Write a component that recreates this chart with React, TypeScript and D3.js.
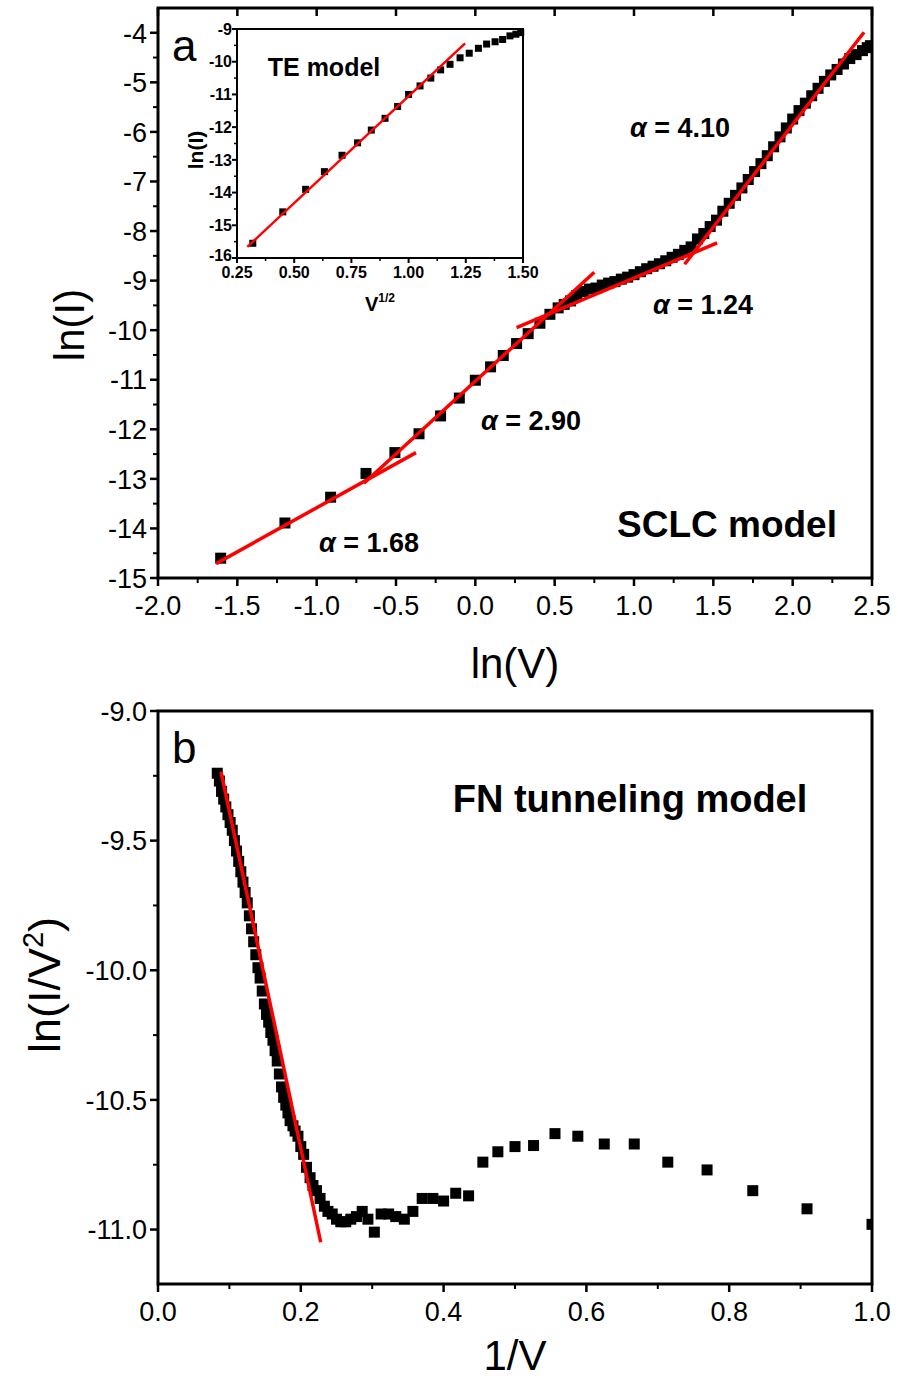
import React from 'react';
import * as d3 from 'd3';

// ---------- DATA ----------
// Panel a main: ln(V) vs ln(I)
const sclcLnV = [
  -1.605, -1.2, -0.912, -0.689, -0.507, -0.355, -0.219, -0.101, 0.0, 0.096, 0.176, 0.26, 0.333, 0.407, 0.47, 0.522,
  0.56, 0.6, 0.64, 0.68, 0.72, 0.76, 0.8, 0.84, 0.88, 0.92, 0.96, 1.0, 1.04, 1.08, 1.12, 1.16, 1.2, 1.24, 1.28, 1.32,
  1.36, 1.4, 1.44, 1.48, 1.52, 1.56, 1.6, 1.64, 1.68, 1.72, 1.76, 1.8, 1.84, 1.88, 1.92, 1.96, 2.0, 2.04, 2.08, 2.12,
  2.16, 2.2, 2.24, 2.28, 2.32, 2.36, 2.4, 2.44, 2.47, 2.49,
];
const sclcLnI = [
  -14.6, -13.89, -13.37, -12.89, -12.47, -12.09, -11.73, -11.37, -11.01, -10.74, -10.51, -10.27, -10.07, -9.86, -9.68, -9.55,
  -9.48, -9.41, -9.3, -9.22, -9.17, -9.15, -9.09, -9.05, -9.02, -8.97, -8.93, -8.88, -8.82, -8.76, -8.71, -8.66, -8.6, -8.53, -8.47, -8.39,
  -8.32, -8.16, -8.05, -7.91, -7.78, -7.6, -7.44, -7.28, -7.13, -6.96, -6.8, -6.64, -6.48, -6.3, -6.1, -5.92, -5.74, -5.57, -5.42, -5.27,
  -5.12, -4.98, -4.85, -4.74, -4.63, -4.52, -4.44, -4.36, -4.3, -4.26,
];
// fit segments (ln V, ln I) endpoints
const sclcFits = [
  { x1: -1.634, y1: -14.71, x2: -0.374, y2: -12.47 },
  { x1: -0.702, y1: -13.09, x2: 0.75, y2: -8.83 },
  { x1: 0.26, y1: -9.95, x2: 1.524, y2: -8.24 },
  { x1: 1.319, y1: -8.67, x2: 2.45, y2: -3.99 },
];
const alphaLabels = ['4.10', '1.24', '2.90', '1.68'];

// Inset: V^1/2 vs ln(I)
const teSqrtV = [0.319, 0.45, 0.55, 0.632, 0.709, 0.777, 0.837, 0.897, 0.952, 1.0, 1.05, 1.097, 1.14, 1.181, 1.225, 1.265, 1.305, 1.341, 1.378, 1.411, 1.443, 1.469, 1.49];
const teLnI = [-15.55, -14.59, -13.9, -13.36, -12.86, -12.48, -12.09, -11.73, -11.37, -11.0, -10.74, -10.5, -10.25, -10.08, -9.88, -9.74, -9.59, -9.46, -9.39, -9.32, -9.21, -9.16, -9.11];
const teFit = { x1: 0.295, y1: -15.66, x2: 1.247, y2: -9.44 };

// Panel b: 1/V vs ln(I/V^2)
const fnInvV = [
  0.083, 0.086, 0.089, 0.092, 0.095, 0.098, 0.101, 0.104, 0.107, 0.11, 0.113, 0.116, 0.119, 0.122, 0.125, 0.128, 0.131, 0.134,
  0.137, 0.14, 0.143, 0.146, 0.149, 0.152, 0.155, 0.158, 0.161, 0.164, 0.167, 0.17, 0.173, 0.176, 0.179, 0.182, 0.185, 0.189,
  0.192, 0.196, 0.2, 0.204, 0.208, 0.213, 0.217, 0.222, 0.227, 0.233, 0.238, 0.244, 0.25, 0.256, 0.263, 0.27, 0.278, 0.286,
  0.294, 0.303, 0.3125, 0.323, 0.333, 0.345, 0.357, 0.37, 0.385, 0.4, 0.417, 0.435, 0.455, 0.476, 0.5, 0.526, 0.556, 0.588,
  0.625, 0.667, 0.714, 0.769, 0.833, 0.909, 1.0,
];
const fnLnIV2 = [
  -9.24, -9.27, -9.31, -9.34, -9.37, -9.4, -9.43, -9.46, -9.5, -9.54, -9.58, -9.62, -9.66, -9.7, -9.74, -9.79, -9.84, -9.89,
  -9.94, -9.99, -10.03, -10.08, -10.13, -10.17, -10.2, -10.24, -10.27, -10.31, -10.35, -10.4, -10.45, -10.49, -10.52, -10.55, -10.58, -10.6,
  -10.62, -10.64, -10.68, -10.71, -10.76, -10.8, -10.83, -10.85, -10.88, -10.91, -10.93, -10.94, -10.96, -10.97, -10.97, -10.96, -10.95, -10.93,
  -10.96, -11.01, -10.94, -10.94, -10.95, -10.96, -10.93, -10.88, -10.88, -10.89, -10.86, -10.87, -10.74, -10.7, -10.68, -10.676, -10.63, -10.64,
  -10.67, -10.67, -10.74, -10.77, -10.85, -10.92, -10.98,
];
const fnFit = { x1: 0.0882, y1: -9.234, x2: 0.2279, y2: -11.049 };

// Ticks
const aXTicks = [-2.0, -1.5, -1.0, -0.5, 0.0, 0.5, 1.0, 1.5, 2.0, 2.5];
const aYTicks = [-4, -5, -6, -7, -8, -9, -10, -11, -12, -13, -14, -15];
const insetXTicks = [0.25, 0.5, 0.75, 1.0, 1.25, 1.5];
const insetYTicks = [-9, -10, -11, -12, -13, -14, -15, -16];
const bXTicks = [0.0, 0.2, 0.4, 0.6, 0.8, 1.0];
const bYTicks = [-9.0, -9.5, -10.0, -10.5, -11.0];

const FONT = "'Liberation Sans', Arial, Helvetica, sans-serif";
const RED = '#ff0000';

export default function App() {
  // Panel a scales
  const xA = d3.scaleLinear().domain([-2, 2.5]).range([158, 872]);
  const yA = d3.scaleLinear().domain([-15, -3.5]).range([578, 8]);
  // Inset
  const xI = d3.scaleLinear().domain([0.25, 1.5]).range([237, 523]);
  const yI = d3.scaleLinear().domain([-16, -9]).range([258, 29]);
  // Panel b
  const xB = d3.scaleLinear().domain([0, 1]).range([158, 872]);
  const yB = d3.scaleLinear().domain([-11.21, -9]).range([1284, 711]);

  const aMinorX = d3.range(-1.75, 2.5, 0.5);
  const aMinorY = d3.range(-14.5, -3.5, 1);
  const iMinorX = d3.range(0.375, 1.5, 0.25);
  const iMinorY = d3.range(-15.5, -9, 1);
  const bMinorX = d3.range(0.1, 1.0, 0.2);
  const bMinorY = d3.range(-10.75, -9, 0.5);

  const ms = 11;
  const msI = 7;

  const alphaPos = [
    { x: 680, y: 137 },
    { x: 703, y: 314 },
    { x: 531, y: 430 },
    { x: 369, y: 552 },
  ];

  return (
    <svg width={898} height={1382} style={{ position: 'absolute', left: 0, top: 0, background: '#fff' }} fontFamily={FONT}>
      <defs>
        <clipPath id="clipA"><rect x={158} y={8} width={714} height={570} /></clipPath>
        <clipPath id="clipB"><rect x={158} y={711} width={714} height={573} /></clipPath>
      </defs>
      <rect x={0} y={0} width={898} height={1382} fill="#fff" />

      {/* ===== Panel a ===== */}
      <g clipPath="url(#clipA)">
        {sclcLnV.map((v, i) => (
          <rect key={'a' + i} x={xA(v) - ms / 2} y={yA(sclcLnI[i]) - ms / 2} width={ms} height={ms} fill="#000" />
        ))}
        {sclcFits.map((f, i) => (
          <line key={'fa' + i} x1={xA(f.x1)} y1={yA(f.y1)} x2={xA(f.x2)} y2={yA(f.y2)} stroke={RED} strokeWidth={3.5} />
        ))}
      </g>
      {/* frame a */}
      <rect x={158} y={8} width={714} height={570} fill="none" stroke="#000" strokeWidth={3} />
      {aXTicks.map((t) => (
        <g key={'axt' + t}>
          <line x1={xA(t)} x2={xA(t)} y1={578} y2={586} stroke="#000" strokeWidth={2.5} />
          <line x1={xA(t)} x2={xA(t)} y1={8} y2={16} stroke="#000" strokeWidth={2.5} />
          <text x={xA(t)} y={615} fontSize={27} textAnchor="middle">{t.toFixed(1)}</text>
        </g>
      ))}
      {aMinorX.map((t) => (
        <line key={'axm' + t} x1={xA(t)} x2={xA(t)} y1={578} y2={583} stroke="#000" strokeWidth={2} />
      ))}
      {aYTicks.map((t) => (
        <g key={'ayt' + t}>
          <line x1={150} x2={158} y1={yA(t)} y2={yA(t)} stroke="#000" strokeWidth={2.5} />
          <text x={147} y={yA(t)} dy="0.36em" fontSize={27} textAnchor="end">{t}</text>
        </g>
      ))}
      {aMinorY.map((t) => (
        <line key={'aym' + t} x1={153} x2={158} y1={yA(t)} y2={yA(t)} stroke="#000" strokeWidth={2} />
      ))}
      <text x={515} y={678} fontSize={42} textAnchor="middle">ln(V)</text>
      <text transform="translate(84,325) rotate(-90)" fontSize={42} textAnchor="middle">ln(I)</text>
      <text x={172} y={61} fontSize={44}>a</text>

      {alphaLabels.map((a, i) => (
        <text key={'al' + i} x={alphaPos[i].x} y={alphaPos[i].y} fontSize={27} fontWeight="bold" textAnchor="middle">
          <tspan fontStyle="italic">α</tspan> = {a}
        </text>
      ))}
      <text x={727} y={537} fontSize={37} fontWeight="bold" textAnchor="middle">SCLC model</text>

      {/* ===== Inset ===== */}
      <rect x={237} y={29} width={286} height={229} fill="#fff" stroke="none" />
      {teSqrtV.map((v, i) => (
        <rect key={'i' + i} x={xI(v) - msI / 2} y={yI(teLnI[i]) - msI / 2} width={msI} height={msI} fill="#000" />
      ))}
      <line x1={xI(teFit.x1)} y1={yI(teFit.y1)} x2={xI(teFit.x2)} y2={yI(teFit.y2)} stroke={RED} strokeWidth={2.5} />
      <rect x={237} y={29} width={286} height={229} fill="none" stroke="#000" strokeWidth={2} />
      {insetXTicks.map((t) => (
        <g key={'ixt' + t}>
          <line x1={xI(t)} x2={xI(t)} y1={258} y2={263} stroke="#000" strokeWidth={2} />
          <text x={xI(t)} y={278} fontSize={16} fontWeight="bold" textAnchor="middle">{t.toFixed(2)}</text>
        </g>
      ))}
      {iMinorX.map((t) => (
        <line key={'ixm' + t} x1={xI(t)} x2={xI(t)} y1={258} y2={261} stroke="#000" strokeWidth={1.5} />
      ))}
      {insetYTicks.map((t) => (
        <g key={'iyt' + t}>
          <line x1={232} x2={237} y1={yI(t)} y2={yI(t)} stroke="#000" strokeWidth={2} />
          <text x={232} y={yI(t) - (t === -16 ? 3 : 0)} dy="0.36em" fontSize={16} fontWeight="bold" textAnchor="end">{t}</text>
        </g>
      ))}
      {iMinorY.map((t) => (
        <line key={'iym' + t} x1={234} x2={237} y1={yI(t)} y2={yI(t)} stroke="#000" strokeWidth={1.5} />
      ))}
      <text x={380} y={311} fontSize={20} fontWeight="bold" textAnchor="middle">
        V<tspan fontSize={12} dy={-9}>1/2</tspan>
      </text>
      <text transform="translate(203,150) rotate(-90)" fontSize={21} fontWeight="bold" textAnchor="middle">ln(I)</text>
      <text x={324} y={76} fontSize={25} fontWeight="bold" textAnchor="middle">TE model</text>

      {/* ===== Panel b ===== */}
      <g clipPath="url(#clipB)">
        {fnInvV.map((v, i) => (
          <rect key={'b' + i} x={xB(v) - ms / 2} y={yB(fnLnIV2[i]) - ms / 2} width={ms} height={ms} fill="#000" />
        ))}
        <line x1={xB(fnFit.x1)} y1={yB(fnFit.y1)} x2={xB(fnFit.x2)} y2={yB(fnFit.y2)} stroke={RED} strokeWidth={3.5} />
      </g>
      <rect x={158} y={711} width={714} height={573} fill="none" stroke="#000" strokeWidth={3} />
      {bXTicks.map((t) => (
        <g key={'bxt' + t}>
          <line x1={xB(t)} x2={xB(t)} y1={1284} y2={1292} stroke="#000" strokeWidth={2.5} />
          <text x={xB(t)} y={1321} fontSize={27} textAnchor="middle">{t.toFixed(1)}</text>
        </g>
      ))}
      {bMinorX.map((t) => (
        <line key={'bxm' + t} x1={xB(t)} x2={xB(t)} y1={1284} y2={1289} stroke="#000" strokeWidth={2} />
      ))}
      {bYTicks.map((t) => (
        <g key={'byt' + t}>
          <line x1={150} x2={158} y1={yB(t)} y2={yB(t)} stroke="#000" strokeWidth={2.5} />
          <text x={147} y={yB(t)} dy="0.36em" fontSize={27} textAnchor="end">{t.toFixed(1)}</text>
        </g>
      ))}
      {bMinorY.map((t) => (
        <line key={'bym' + t} x1={153} x2={158} y1={yB(t)} y2={yB(t)} stroke="#000" strokeWidth={2} />
      ))}
      <text x={515} y={1370} fontSize={42} textAnchor="middle">1/V</text>
      <text transform="translate(60,985) rotate(-90)" fontSize={45} textAnchor="middle">
        ln(I/V<tspan fontSize={29} dy={-17}>2</tspan><tspan dy={17}>)</tspan>
      </text>
      <text x={172} y={763} fontSize={44}>b</text>
      <text x={630} y={812} fontSize={38} fontWeight="bold" textAnchor="middle">FN tunneling model</text>
    </svg>
  );
}
